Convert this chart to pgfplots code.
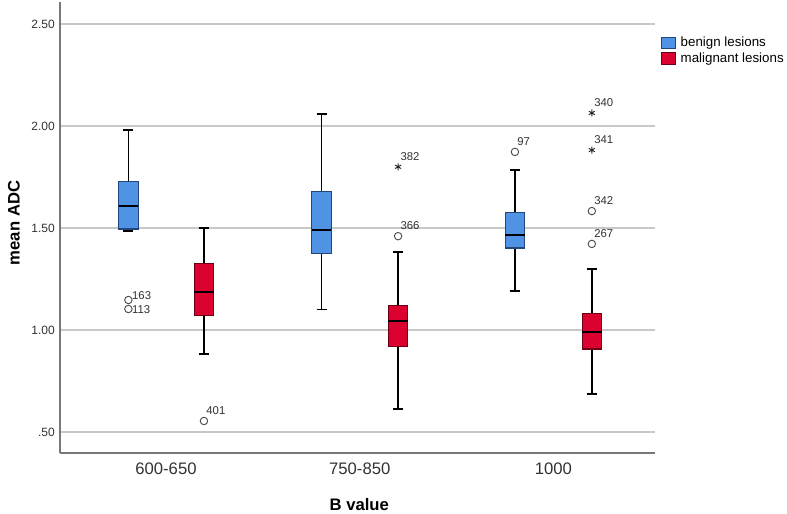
\documentclass[border=0pt]{standalone}
\usepackage{fontspec}
\setmainfont{Liberation Sans}
\usepackage{pgfplots}
\pgfplotsset{compat=1.18}
\usepgfplotslibrary{statistics}

\definecolor{bfill}{RGB}{80,146,228}
\definecolor{bdraw}{RGB}{35,70,125}
\definecolor{rfill}{RGB}{218,0,48}
\definecolor{rdraw}{RGB}{110,0,22}
\definecolor{gridc}{RGB}{200,200,200}
\definecolor{axc}{RGB}{120,120,120}
\definecolor{txt}{RGB}{50,50,50}

\pgfplotsset{
  bx/.style={
    forget plot,
    boxplot/draw direction=y,
    boxplot/box extend=0.1,
    boxplot/whisker extend=0.052,
    boxplot/every whisker/.style={black, line width=1.2pt},
    boxplot/every median/.style={black, line width=2pt},
    line width=0.8pt,
  },
  % outlier labels
  lab/.style={
    nodes near coords, point meta=explicit symbolic,
    every node near coord/.append style={font=\fontsize{8.5}{9}\selectfont, text=txt,
      anchor=south west, inner sep=0pt, #1},
  },
  circ/.style={forget plot, only marks, mark=o, mark size=2.8pt,
    mark options={draw=black!70, line width=0.7pt}},
  starm/.style={forget plot, only marks, mark=asterisk, mark size=2.6pt,
    mark options={draw=black!85, line width=0.7pt}},
  sqleg/.style={legend image code/.code={
    \draw[##1] (0pt,-4.25pt) rectangle (10.5pt,4.25pt);
    \path (13pt,0pt);}},
}

\begin{document}
\begin{tikzpicture}
\useasboundingbox (-45pt,-45pt) rectangle (545.25pt,339.75pt);
\begin{axis}[
    at={(0pt,0pt)}, anchor=south west,
    scale only axis,
    width=446.25pt, height=338.25pt,
    xmin=-0.547, xmax=2.524,
    ymin=0.397, ymax=2.608,
    axis x line*=bottom, axis y line*=left,
    axis line style={axc, line width=0.8pt},
    xtick={0,1,2},
    xticklabels={600-650,750-850,1000},
    ytick={0.5,1,1.5,2,2.5},
    yticklabels={.50,1.00,1.50,2.00,2.50},
    major tick length=0pt,
    ymajorgrids,
    grid style={gridc, line width=0.8pt},
    xticklabel style={font=\fontsize{12.5}{14}\selectfont, text=txt, anchor=north, inner sep=0pt, yshift=-7.5pt},
    yticklabel style={font=\fontsize{9}{10}\selectfont, text=txt, anchor=east, inner sep=0pt, xshift=-3.75pt},
    xlabel={B value},
    ylabel={mean ADC},
    xlabel style={font=\fontsize{12.5}{14}\selectfont\bfseries, at={(axis description cs:0.503,0)}, anchor=north, inner sep=0pt, yshift=-34pt},
    ylabel style={font=\fontsize{12.5}{14}\selectfont\bfseries, at={(axis description cs:-0.0672,0.51)}, anchor=south, inner sep=0pt},
    legend style={at={(1.010,0.926)}, anchor=north west, draw=none, fill=none,
      inner sep=0pt, row sep=1pt, font=\fontsize{10}{11}\selectfont,
      nodes={inner sep=1pt}},
    legend cell align=left,
]

% 600-650
\addplot[bx, fill=bfill, draw=bdraw, boxplot prepared={draw position=-0.194,
    lower whisker=1.485, lower quartile=1.495, median=1.608,
    upper quartile=1.73, upper whisker=1.98}] coordinates {};
\addplot[bx, fill=rfill, draw=rdraw, boxplot prepared={draw position=0.196,
    lower whisker=0.882, lower quartile=1.073, median=1.186,
    upper quartile=1.324, upper whisker=1.50}] coordinates {};

% 750-850
\addplot[bx, fill=bfill, draw=bdraw, boxplot prepared={draw position=0.803,
    lower whisker=1.10, lower quartile=1.377, median=1.49,
    upper quartile=1.68, upper whisker=2.06}] coordinates {};
\addplot[bx, fill=rfill, draw=rdraw, boxplot prepared={draw position=1.198,
    lower whisker=0.613, lower quartile=0.917, median=1.044,
    upper quartile=1.12, upper whisker=1.382}] coordinates {};

% 1000
\addplot[bx, fill=bfill, draw=bdraw, boxplot prepared={draw position=1.801,
    lower whisker=1.19, lower quartile=1.402, median=1.466,
    upper quartile=1.574, upper whisker=1.785}] coordinates {};
\addplot[bx, fill=rfill, draw=rdraw, boxplot prepared={draw position=2.198,
    lower whisker=0.686, lower quartile=0.907, median=0.99,
    upper quartile=1.083, upper whisker=1.30}] coordinates {};

% outliers
\addplot[circ, lab={xshift=2.5pt, yshift=0pt}] coordinates {(-0.194,1.147) [163]};
\addplot[circ, lab={anchor=west, xshift=2.5pt, yshift=-0.5pt}] coordinates {(-0.194,1.103) [113]};
\addplot[circ, lab={xshift=1.5pt, yshift=4.5pt}] coordinates {
    (0.196,0.554) [401]
    (1.198,1.46) [366]
    (1.801,1.873) [97]
    (2.198,1.583) [342]
    (2.198,1.422) [267]
};
\addplot[starm, lab={xshift=1.5pt, yshift=4.5pt}] coordinates {
    (1.198,1.80) [382]
    (2.198,2.064) [340]
    (2.198,1.882) [341]
};

\addlegendimage{fill=bfill, draw=bdraw, line width=0.6pt, sqleg}
\addlegendentry{benign lesions}
\addlegendimage{fill=rfill, draw=rdraw, line width=0.6pt, sqleg}
\addlegendentry{malignant lesions}

\end{axis}
\end{tikzpicture}
\end{document}
